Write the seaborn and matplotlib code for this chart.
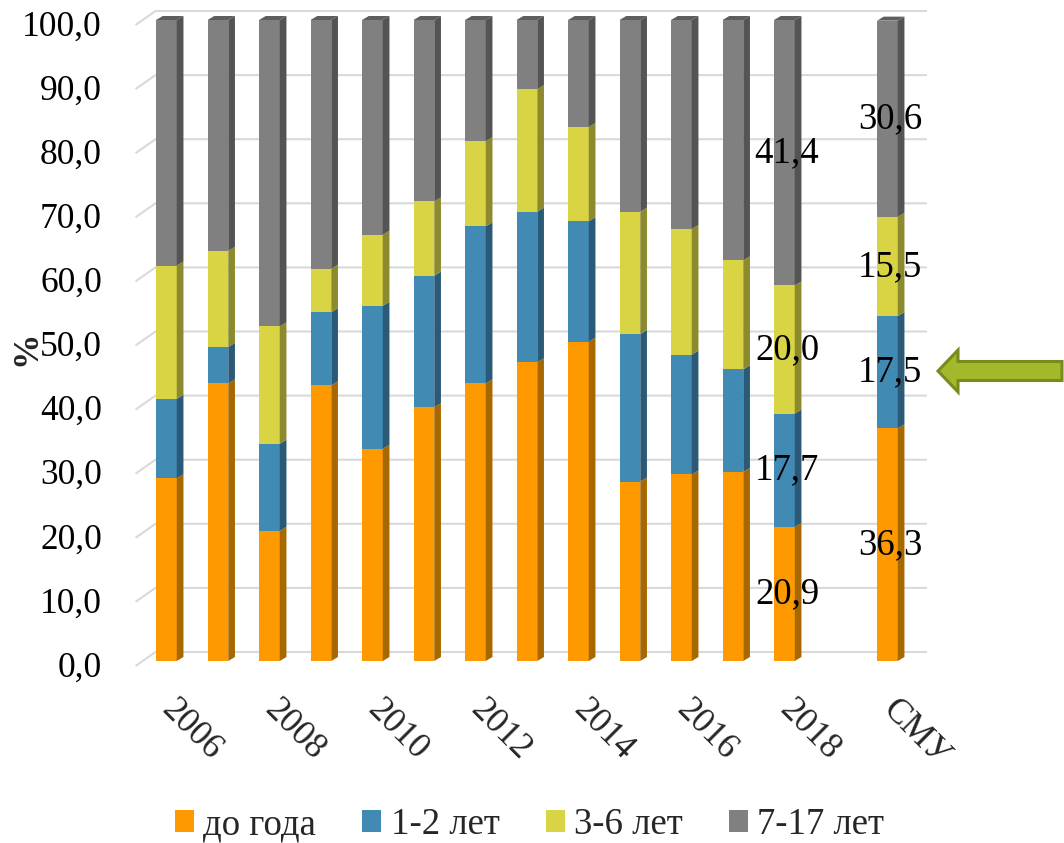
import numpy as np
import matplotlib
matplotlib.use("Agg")
import matplotlib.pyplot as plt
import matplotlib.transforms as mtransforms
from matplotlib.patches import Polygon, Patch
import seaborn as sns

# ---- data -------------------------------------------------------------
categories = ["2006", "2007", "2008", "2009", "2010", "2011", "2012",
              "2013", "2014", "2015", "2016", "2017", "2018", "СМУ"]
positions = [0, 1, 2, 3, 4, 5, 6, 7, 8, 9, 10, 11, 12, 14]
tick_positions = [0, 2, 4, 6, 8, 10, 12, 14]
tick_labels = ["2006", "2008", "2010", "2012", "2014", "2016", "2018", "СМУ"]

series_names = ["до года", "1-2 лет", "3-6 лет", "7-17 лет"]
under_1_year = [28.5, 43.3, 20.3, 43.0, 33.1, 39.6, 43.3, 46.6, 49.8, 28.0, 29.1, 29.5, 20.9, 36.3]
years_1_2 = [12.4, 5.7, 13.6, 11.4, 22.3, 20.5, 24.5, 23.5, 18.8, 23.0, 18.7, 16.0, 17.7, 17.5]
years_3_6 = [20.8, 15.0, 18.3, 6.8, 11.1, 11.6, 13.3, 19.1, 14.7, 19.1, 19.6, 17.0, 20.0, 15.5]
years_7_17 = [38.3, 36.0, 47.8, 38.8, 33.5, 28.3, 18.9, 10.8, 16.7, 29.9, 32.6, 37.5, 41.4, 30.6]
labeled_categories = ["2018", "СМУ"]

# ---- style ------------------------------------------------------------
sns.set_theme(style="white")
plt.rcParams["font.family"] = ["Liberation Serif", "DejaVu Serif"]
FS_TICK = 25.5
FS_VALUE = 26.5
FS_LEGEND = 26.5

front_colors = ["#FF9900", "#418AB3", "#D8D443", "#808080"]
side_colors = ["#A86800", "#2A5A78", "#8C8A2D", "#545454"]
top_color = "#5E5E5E"
grid_color = "#D9D9D9"
BAR_W = 0.402
DEPTH_PX = (6.7, 4.0)          # bar depth (right, up) in pixels
GRID_DEPTH_PX = (20.0, 14.0)   # floor depth of the back wall

fig = plt.figure(figsize=(10.64, 8.43), dpi=100)
W_PX, H_PX = 1064, 843
ax = fig.add_axes([135.5 / W_PX, (H_PX - 661) / H_PX, 782.8 / W_PX, 641 / H_PX])

series = [under_1_year, years_1_2, years_3_6, years_7_17]
cum = np.cumsum(np.array(series, dtype=float), axis=0)

# front faces: cumulative totals layered from the top series down
for k in reversed(range(len(series))):
    sns.barplot(x=positions, y=cum[k], native_scale=True, width=BAR_W,
                color=front_colors[k], saturation=1, errorbar=None,
                linewidth=0, edgecolor="none", ax=ax, zorder=3)

ax.set_xlim(-0.6, 14.6)
ax.set_ylim(0, 100)
for s in ax.spines.values():
    s.set_visible(False)
ax.grid(False)

to_px = ax.transData.transform
ident = mtransforms.IdentityTransform()
ddx, ddy = DEPTH_PX

# side and top faces of each bar
for i, x in enumerate(positions):
    xl, xr = x - BAR_W / 2, x + BAR_W / 2
    bottoms = np.concatenate([[0.0], cum[:-1, i]])
    for k in range(len(series)):
        (px_r, py0), (_, py1) = to_px([(xr, bottoms[k]), (xr, cum[k, i])])
        side = Polygon([(px_r, py0), (px_r, py1), (px_r + ddx, py1 + ddy),
                        (px_r + ddx, py0 + ddy)], closed=True,
                       facecolor=side_colors[k], edgecolor="none",
                       transform=ident, zorder=4, clip_on=False)
        ax.add_patch(side)
    (pxl, pyt), (pxr, _) = to_px([(xl, cum[-1, i]), (xr, cum[-1, i])])
    top = Polygon([(pxl, pyt), (pxr, pyt), (pxr + ddx, pyt + ddy),
                   (pxl + ddx, pyt + ddy)], closed=True, facecolor=top_color,
                  edgecolor="none", transform=ident, zorder=4, clip_on=False)
    ax.add_patch(top)

# back-wall gridlines with the floor bend on the left
bbox = ax.get_window_extent()
gdx, gdy = GRID_DEPTH_PX
yticks = list(range(0, 101, 10))
for v in yticks:
    _, py = to_px((0, v))
    front_y = py - 5
    xs = [bbox.x0, bbox.x0 + gdx, bbox.x1 + 8.7]
    ys = [front_y, front_y + gdy, front_y + gdy]
    ax.plot(xs, ys, color=grid_color, lw=1.5, transform=ident,
            zorder=1, clip_on=False, solid_capstyle="butt")

# y tick labels, aligned with the front edge of the floor
ax.set_yticks([])
ylab_trans = mtransforms.offset_copy(ax.get_yaxis_transform(), fig=fig,
                                     x=-33.5, y=-7, units="dots")
for v in yticks:
    ax.text(0, v, f"{v:.1f}".replace(".", ","), transform=ylab_trans,
            ha="right", va="center", fontsize=FS_TICK, color="black")

fig.text(26.5 / W_PX, (H_PX - 348) / H_PX, "%", rotation=90, ha="center",
         va="center", fontsize=FS_TICK, fontweight="bold")

# x tick labels
ax.set_xticks(tick_positions)
ax.set_xticklabels(tick_labels)
ax.tick_params(axis="x", length=0, pad=32)
for lab in ax.get_xticklabels():
    lab.set_rotation(-45)
    lab.set_ha("left")
    lab.set_va("center")
    lab.set_rotation_mode("anchor")
    lab.set_fontsize(FS_TICK)

# value labels for the last year and the reference group
for cat in labeled_categories:
    i = categories.index(cat)
    bottom = 0.0
    for k in range(len(series)):
        val = series[k][i]
        ax.text(positions[i] + 0.05, bottom + val / 2, f"{val:.1f}".replace(".", ","),
                ha="center", va="center", fontsize=FS_VALUE, color="black", zorder=6)
        bottom += val

# legend
handles = [Patch(facecolor=c, edgecolor="none", label=n)
           for c, n in zip(front_colors, series_names)]
fig.legend(handles=handles, loc="center", bbox_to_anchor=(0.4977, 0.0215),
           ncol=4, frameon=False, fontsize=FS_LEGEND, handlelength=0.52,
           handleheight=0.52, handletextpad=0.25, columnspacing=1.25,
           borderaxespad=0)

# pointer arrow towards the reference group
arrow_px = [(938, 371), (958, 350), (958, 361.5), (1062, 361.5),
            (1062, 380.5), (958, 380.5), (958, 392)]
arrow = Polygon([(x / W_PX, (H_PX - y) / H_PX) for x, y in arrow_px],
                closed=True, facecolor="#A3B92A", edgecolor="#7A8B1E",
                linewidth=2.2, transform=fig.transFigure, zorder=5)
fig.patches.append(arrow)

fig.savefig("out.png", dpi=100)
